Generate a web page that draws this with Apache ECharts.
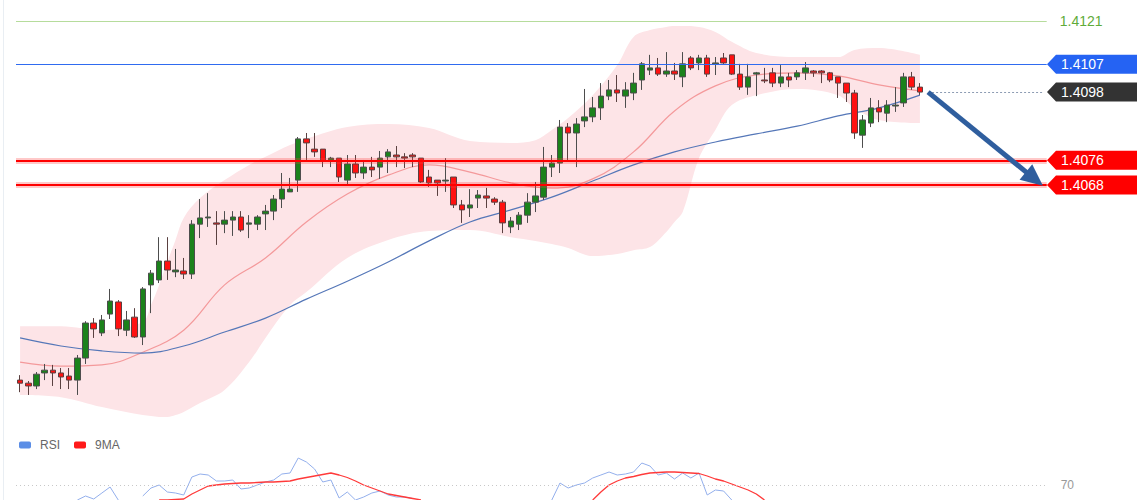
<!DOCTYPE html>
<html>
<head>
<meta charset="utf-8">
<title>Price chart</title>
<script src="https://cdn.jsdelivr.net/npm/echarts@6/dist/echarts.min.js"></script>
<style>
  html, body { margin: 0; padding: 0; background: #fff; }
  #main { width: 1140px; height: 500px; }
</style>
</head>
<body>
<div id="main"></div>
<script>
// candles (open / close / low / high), one per bar
var opens = [
  1.40051, 1.40041, 1.40032, 1.40074, 1.40083, 1.40074, 1.40064, 1.40051, 1.40122, 1.40235,
  1.40203, 1.40264, 1.40303, 1.40212, 1.40254, 1.40190, 1.40358, 1.40374, 1.40435, 1.40400,
  1.40403, 1.40393, 1.40554, 1.40574, 1.40558, 1.40554, 1.40567, 1.40577, 1.40554, 1.40554,
  1.40587, 1.40596, 1.40635, 1.40658, 1.40696, 1.40829, 1.40796, 1.40796, 1.40758, 1.40767,
  1.40696, 1.40748, 1.40719, 1.40738, 1.40738, 1.40771, 1.40777, 1.40771, 1.40777, 1.40767,
  1.40706, 1.40696, 1.40693, 1.40706, 1.40616, 1.40606, 1.40638, 1.40645, 1.40635, 1.40625,
  1.40545, 1.40554, 1.40583, 1.40625, 1.40641, 1.40738, 1.40751, 1.40867, 1.40848, 1.40887,
  1.40900, 1.40929, 1.40967, 1.40987, 1.40967, 1.40977, 1.41019, 1.41051, 1.41058, 1.41038,
  1.41048, 1.41029, 1.41090, 1.41074, 1.41090, 1.41071, 1.41090, 1.41100, 1.41038, 1.40996,
  1.41038, 1.41019, 1.41042, 1.41009, 1.41029, 1.41029, 1.41042, 1.41048, 1.41048, 1.41042,
  1.41029, 1.41009, 1.40977, 1.40841, 1.40880, 1.40929, 1.40912, 1.40935, 1.40945, 1.41029,
  1.40996
];
var closes = [
  1.40041, 1.40032, 1.40070, 1.40083, 1.40074, 1.40061, 1.40051, 1.40122, 1.40235, 1.40216,
  1.40245, 1.40306, 1.40216, 1.40245, 1.40190, 1.40345, 1.40396, 1.40435, 1.40406, 1.40406,
  1.40393, 1.40554, 1.40574, 1.40577, 1.40554, 1.40567, 1.40577, 1.40535, 1.40558, 1.40577,
  1.40596, 1.40635, 1.40667, 1.40667, 1.40829, 1.40816, 1.40787, 1.40758, 1.40767, 1.40706,
  1.40748, 1.40719, 1.40738, 1.40729, 1.40767, 1.40787, 1.40771, 1.40767, 1.40771, 1.40690,
  1.40687, 1.40687, 1.40696, 1.40616, 1.40600, 1.40616, 1.40648, 1.40638, 1.40625, 1.40558,
  1.40564, 1.40583, 1.40625, 1.40645, 1.40738, 1.40751, 1.40867, 1.40848, 1.40877, 1.40900,
  1.40929, 1.40967, 1.40987, 1.40977, 1.40987, 1.41009, 1.41071, 1.41058, 1.41038, 1.41048,
  1.41038, 1.41071, 1.41058, 1.41090, 1.41038, 1.41074, 1.41074, 1.41038, 1.40996, 1.41029,
  1.41042, 1.41016, 1.41009, 1.41029, 1.41019, 1.41042, 1.41058, 1.41042, 1.41042, 1.41019,
  1.41009, 1.40977, 1.40848, 1.40890, 1.40929, 1.40916, 1.40938, 1.40938, 1.41029, 1.40996,
  1.40980
];
var lows = [
  1.40012, 1.40003, 1.40022, 1.40051, 1.40032, 1.40022, 1.40022, 1.40003, 1.40103, 1.40187,
  1.40193, 1.40248, 1.40193, 1.40193, 1.40187, 1.40164, 1.40267, 1.40364, 1.40374, 1.40383,
  1.40377, 1.40377, 1.40509, 1.40545, 1.40487, 1.40525, 1.40516, 1.40529, 1.40509, 1.40535,
  1.40535, 1.40567, 1.40606, 1.40658, 1.40658, 1.40761, 1.40771, 1.40738, 1.40738, 1.40690,
  1.40680, 1.40703, 1.40700, 1.40706, 1.40700, 1.40719, 1.40738, 1.40735, 1.40738, 1.40687,
  1.40674, 1.40645, 1.40658, 1.40606, 1.40558, 1.40577, 1.40606, 1.40606, 1.40616, 1.40525,
  1.40525, 1.40535, 1.40558, 1.40593, 1.40632, 1.40706, 1.40719, 1.40761, 1.40738, 1.40867,
  1.40883, 1.40890, 1.40954, 1.40948, 1.40929, 1.40954, 1.40987, 1.41035, 1.41032, 1.41029,
  1.41019, 1.40996, 1.41051, 1.41051, 1.41029, 1.41035, 1.41071, 1.41035, 1.40987, 1.40971,
  1.40967, 1.41009, 1.40996, 1.40996, 1.40996, 1.41019, 1.41019, 1.41029, 1.41009, 1.41012,
  1.40961, 1.40948, 1.40829, 1.40800, 1.40867, 1.40883, 1.40883, 1.40916, 1.40932, 1.40987,
  1.40971
];
var highs = [
  1.40067, 1.40048, 1.40077, 1.40103, 1.40100, 1.40090, 1.40090, 1.40132, 1.40241, 1.40251,
  1.40261, 1.40345, 1.40309, 1.40274, 1.40283, 1.40351, 1.40406, 1.40512, 1.40512, 1.40474,
  1.40445, 1.40567, 1.40635, 1.40654, 1.40596, 1.40596, 1.40596, 1.40596, 1.40583, 1.40583,
  1.40616, 1.40648, 1.40719, 1.40703, 1.40835, 1.40848, 1.40848, 1.40796, 1.40771, 1.40767,
  1.40777, 1.40777, 1.40761, 1.40771, 1.40790, 1.40796, 1.40806, 1.40783, 1.40783, 1.40767,
  1.40729, 1.40696, 1.40767, 1.40706, 1.40632, 1.40667, 1.40664, 1.40671, 1.40641, 1.40632,
  1.40577, 1.40593, 1.40654, 1.40690, 1.40803, 1.40777, 1.40890, 1.40880, 1.40896, 1.40990,
  1.40964, 1.41009, 1.41019, 1.41035, 1.41012, 1.41042, 1.41077, 1.41100, 1.41090, 1.41109,
  1.41074, 1.41109, 1.41096, 1.41100, 1.41100, 1.41093, 1.41106, 1.41100, 1.41071, 1.41071,
  1.41045, 1.41058, 1.41058, 1.41067, 1.41042, 1.41051, 1.41077, 1.41051, 1.41051, 1.41045,
  1.41029, 1.41009, 1.40987, 1.40906, 1.40961, 1.40954, 1.40954, 1.40996, 1.41042, 1.41045,
  1.41009
];

// envelope band, read at these bar indexes
var bandIdx = [0, 5, 10, 15, 16, 17, 18, 19, 20, 22, 25, 28, 30, 33, 35, 40, 45, 50, 55, 60,
  63, 65, 67, 70, 73, 75, 77, 79, 80, 81, 83, 85, 87, 90, 95, 100, 102, 105, 110];
var bandUpper = [1.40225, 1.40225, 1.40212, 1.40238, 1.40293, 1.40358, 1.40432, 1.40503, 1.40574, 1.40638,
  1.40696, 1.40745, 1.40771, 1.40809, 1.40829, 1.40867, 1.40877, 1.40864, 1.40822, 1.40816,
  1.40825, 1.40858, 1.40896, 1.40970, 1.41067, 1.41158, 1.41180, 1.41190, 1.41193, 1.41193,
  1.41190, 1.41174, 1.41142, 1.41106, 1.41093, 1.41093, 1.41116, 1.41122, 1.41100];
var bandLower = [1.40003, 1.39996, 1.39964, 1.39938, 1.39935, 1.39932, 1.39932, 1.39938, 1.39948, 1.39977,
  1.40019, 1.40109, 1.40187, 1.40293, 1.40335, 1.40445, 1.40503, 1.40532, 1.40535, 1.40512,
  1.40500, 1.40490, 1.40477, 1.40451, 1.40458, 1.40470, 1.40480, 1.40529, 1.40561, 1.40593,
  1.40767, 1.40858, 1.40938, 1.40970, 1.40990, 1.40970, 1.40929, 1.40890, 1.40880];

// moving averages, read every 5 bars
var maIdx = [0, 5, 10, 15, 20, 25, 30, 35, 40, 45, 50, 55, 60, 65, 70, 75, 80, 85, 90, 95, 100, 105, 110];
var maFast = [1.40109, 1.40096, 1.40100, 1.40141, 1.40212, 1.40358, 1.40445, 1.40561, 1.40651, 1.40712,
  1.40745, 1.40722, 1.40687, 1.40670, 1.40700, 1.40787, 1.40919, 1.41000, 1.41035, 1.41042,
  1.41032, 1.41003, 1.40984];
var maSlow = [1.40187, 1.40161, 1.40145, 1.40138, 1.40161, 1.40206, 1.40251, 1.40312, 1.40370, 1.40432,
  1.40500, 1.40561, 1.40600, 1.40641, 1.40693, 1.40745, 1.40787, 1.40819, 1.40845, 1.40870,
  1.40903, 1.40929, 1.40970];

// RSI panel (only the part above the cut is visible)
var rsi = [[7, 64], [8, 65.6], [9, 64.4], [10, 66.8], [11, 69.2], [12, 64], [13, null],
  [15, 65.6], [16, 68.8], [17, 70], [18, 67.2], [19, 66.8], [20, 66], [21, 73.2], [22, 74.4], [23, 74],
  [24, 71.6], [25, 71.6], [26, 72], [27, 68.4], [28, 68.8], [29, 70], [30, 71.2], [31, 72], [32, 74.4],
  [33, 74.8], [34, 80.8], [35, 79.2], [36, 76.4], [37, 71.2], [38, 72], [39, 64.8], [40, 67.2], [41, 64],
  [42, 65.2], [43, 66.8], [44, 67.6], [45, 66], [46, 65.2], [47, 65.2], [48, 64.6], [49, null],
  [65, 64], [66, 70.8], [67, 68.8], [68, 70], [69, 70.8], [70, 72.8], [71, 74], [72, 75.2], [73, 74],
  [74, 74.4], [75, 75.2], [76, 78.8], [77, 77.6], [78, 74], [79, 74.8], [80, 72.4], [81, 74.8], [82, 72.8],
  [83, 74.8], [84, 66], [85, 68], [86, 67.6], [87, 64]];
var rsiMa = [[17, 64], [18, 64], [19, 64.2], [20, 64.4], [21, 66.4], [22, 68], [23, 69.6], [24, 70], [25, 70.4],
  [26, 70.6], [27, 70.8], [28, 70.8], [29, 71], [30, 71.2], [31, 71.2], [32, 71.4], [33, 71.6], [34, 72.4],
  [35, 73], [36, 73.6], [37, 74.2], [38, 74.8], [39, 74], [40, 73], [41, 71.6], [42, 70], [43, 68.8],
  [44, 67.6], [45, 66.4], [46, 65.8], [47, 65.2], [48, 64.6], [49, 64], [50, null],
  [70, 64], [71, 67.2], [72, 70], [73, 71.6], [74, 72.8], [75, 73.4], [76, 74.2], [77, 74.8], [78, 75],
  [79, 75.2], [80, 75.2], [81, 75], [82, 74.8], [83, 74.6], [84, 73.6], [85, 72.4], [86, 71.6], [87, 70.4],
  [88, 69.2], [89, 68], [90, 66.4], [91, 64]];

var levels = [1.4121, 1.4107, 1.4098, 1.4076, 1.4068];
var arrowFrom = [111, 1.4098];
var arrowTo = [124, 1.4070];
var barCount = 126; // bars plus empty room on the right

var categories = [];
for (var i = 0; i < barCount; i++) categories.push(String(i));

var candles = opens.map(function (o, i) {
  return [o, closes[i], lows[i], highs[i]];
});
var lowerPts = bandIdx.map(function (x, i) { return [x, bandLower[i]]; });
var widthPts = bandIdx.map(function (x, i) { return [x, bandUpper[i] - bandLower[i]]; });
var fastPts = maIdx.map(function (x, i) { return [x, maFast[i]]; });
var slowPts = maIdx.map(function (x, i) { return [x, maSlow[i]]; });

var font = '"Liberation Sans", Arial, sans-serif';
var chart = echarts.init(document.getElementById('main'), null, { renderer: 'svg' });

function redLevel(v, halo) {
  return {
    yAxis: v,
    lineStyle: halo
      ? { color: 'rgba(255,60,60,0.28)', width: 6, type: 'solid' }
      : { color: '#ff0000', width: 2.2, type: 'solid' }
  };
}

var option = {
  animation: false,
  backgroundColor: '#fff',
  legend: {
    left: 14,
    top: 434,
    itemWidth: 12,
    itemHeight: 7,
    itemGap: 14,
    icon: 'roundRect',
    textStyle: { color: '#666', fontSize: 12, fontFamily: font, padding: [0, 0, 0, 4] },
    data: ['RSI', '9MA']
  },
  grid: [
    { left: 16, top: 0, width: 1030.7, height: 430 },
    { left: 16, top: 455, width: 1030.7, height: 45 }
  ],
  xAxis: [
    { type: 'category', data: categories, show: false, gridIndex: 0 },
    { type: 'category', data: categories, show: false, gridIndex: 1 }
  ],
  yAxis: [
    { type: 'value', min: 1.3989, max: 1.41277, show: false, gridIndex: 0, splitLine: { show: false } },
    { type: 'value', min: 64, max: 82, show: false, gridIndex: 1, splitLine: { show: false } }
  ],
  series: [
    {
      name: 'bandLow', type: 'line', data: lowerPts, stack: 'band',
      smooth: 0.35, symbol: 'none', silent: true, z: 1,
      lineStyle: { width: 0, opacity: 0 }
    },
    {
      name: 'band', type: 'line', data: widthPts, stack: 'band',
      smooth: 0.35, symbol: 'none', silent: true, z: 1,
      lineStyle: { width: 0, opacity: 0 },
      areaStyle: { color: '#fde4e7', opacity: 1 }
    },
    {
      name: 'maFast', type: 'line', data: fastPts, smooth: 0.4, symbol: 'none', z: 2,
      lineStyle: { color: '#f4999b', width: 1.2 }
    },
    {
      name: 'maSlow', type: 'line', data: slowPts, smooth: 0.4, symbol: 'none', z: 2,
      lineStyle: { color: '#5577b8', width: 1.2 }
    },
    {
      name: 'price', type: 'candlestick', data: candles, barWidth: 6, z: 3,
      itemStyle: {
        color: '#1b821b', color0: '#ff1010',
        borderColor: '#4d4d4d', borderColor0: '#5a4040', borderWidth: 1
      },
      markLine: {
        silent: true,
        symbol: 'none',
        precision: 5,
        animation: false,
        label: { show: false },
        data: [
          {
            yAxis: levels[0],
            lineStyle: { color: '#b6dc9c', width: 1, type: 'solid' },
            label: { show: true, position: 'end', distance: 13, formatter: '1.4121', color: '#5fab3a', fontSize: 14, fontFamily: font }
          },
          { yAxis: levels[1], lineStyle: { color: '#2f6bf0', width: 1.2, type: 'solid' } },
          redLevel(levels[3], true),
          redLevel(levels[3], false),
          redLevel(levels[4], true),
          redLevel(levels[4], false),
          [
            { coord: [arrowFrom[0], levels[2]], lineStyle: { color: '#8d9cb3', width: 1, type: [2, 2] } },
            { coord: [barCount - 1, levels[2]] }
          ],
          [
            { coord: arrowFrom, symbol: 'none', lineStyle: { color: '#2f5e9e', width: 5, type: 'solid' } },
            { coord: arrowTo, symbol: 'triangle', symbolSize: [20, 22] }
          ]
        ]
      }
    },
    {
      name: 'RSI', type: 'line', xAxisIndex: 1, yAxisIndex: 1, data: rsi,
      symbol: 'none', connectNulls: false,
      itemStyle: { color: '#5b8ee6' },
      lineStyle: { color: '#93afec', width: 1 },
      markLine: {
        silent: true, symbol: 'none', animation: false, precision: 2,
        data: [{ yAxis: 70 }],
        lineStyle: { color: '#c8c8c8', width: 1, type: [1, 3] },
        label: { show: true, position: 'end', distance: 14, formatter: '70', color: '#999', fontSize: 12, fontFamily: font }
      }
    },
    {
      name: '9MA', type: 'line', xAxisIndex: 1, yAxisIndex: 1, data: rsiMa,
      symbol: 'none', connectNulls: false,
      itemStyle: { color: '#ff1a1a' },
      lineStyle: { color: '#ff3a3a', width: 1.3 }
    }
  ]
};

chart.setOption(option);

// price tags on the right edge, placed with the price scale
var tagLevels = [levels[1], levels[2], levels[3], levels[4]];
var tagColors = ['#2563f3', '#333333', '#ff0000', '#ff0000'];
var tagGraphics = tagLevels.map(function (v, i) {
  var y = chart.convertToPixel({ yAxisIndex: 0 }, v);
  return {
    type: 'group',
    children: [
      {
        type: 'polygon',
        shape: { points: [[1047, y], [1056, y - 9.5], [1137, y - 9.5], [1137, y + 9.5], [1056, y + 9.5]] },
        style: { fill: tagColors[i] }
      },
      {
        type: 'text',
        x: 1061, y: y,
        style: { text: v.toFixed(4), fill: '#fff', font: '14px ' + font, verticalAlign: 'middle', align: 'left' }
      }
    ]
  };
});
tagGraphics.push({
  type: 'rect',
  shape: { x: 3, y: 0, width: 1, height: 500 },
  style: { fill: '#e9eef3' }
});
chart.setOption({ graphic: tagGraphics });
</script>
</body>
</html>
